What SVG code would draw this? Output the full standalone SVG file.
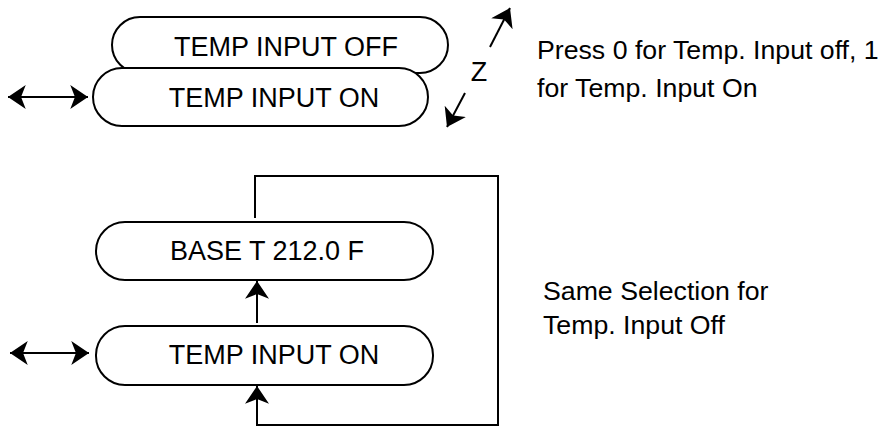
<svg xmlns="http://www.w3.org/2000/svg" width="882" height="428" viewBox="0 0 882 428">
<style>
.box{fill:#fff;stroke:#000;stroke-width:2}
.lbl{font-family:"Liberation Sans",Arial,sans-serif;font-size:27px;fill:#000}
.note{font-family:"Liberation Sans",Arial,sans-serif;font-size:26.7px;fill:#000}
.ln{fill:none;stroke:#000;stroke-width:2}
</style>
<defs>
<marker id="ah" markerUnits="userSpaceOnUse" markerWidth="18" markerHeight="24" viewBox="0 0 17 23" refX="17" refY="11.5" orient="auto-start-reverse">
<path d="M17,11.5 L0,0 L4.5,11.5 L0,23 Z" fill="#000"/>
</marker>
</defs>
<rect width="882" height="428" fill="#fff"/>
<g id="temp-input-off">
<rect class="box" x="112" y="17" width="336" height="56" rx="28"/>
<text class="lbl" x="286" y="56" text-anchor="middle">TEMP INPUT OFF</text>
</g>
<g id="temp-input-on-top">
<rect class="box" x="93" y="68" width="335" height="58" rx="29"/>
<text class="lbl" x="274" y="107" text-anchor="middle">TEMP INPUT ON</text>
</g>
<g id="z-label">
<text class="lbl" x="479" y="81" text-anchor="middle">Z</text>
</g>
<g id="note-top">
<text class="note" x="537" y="59">Press 0 for Temp. Input off, 1</text>
<text class="note" x="537" y="97">for Temp. Input On</text>
</g>
<g id="base-t">
<rect class="box" x="96" y="222" width="337" height="58" rx="29"/>
<text class="lbl" x="267" y="260" text-anchor="middle">BASE T 212.0 F</text>
</g>
<g id="temp-input-on-bottom">
<rect class="box" x="96" y="326" width="337" height="59" rx="29"/>
<text class="lbl" x="274" y="364" text-anchor="middle">TEMP INPUT ON</text>
</g>
<g id="note-bottom">
<text class="note" x="543" y="300">Same Selection for</text>
<text class="note" x="543" y="334">Temp. Input Off</text>
</g>
<g id="connectors">
<line class="ln" x1="8" y1="97" x2="88" y2="97" marker-start="url(#ah)" marker-end="url(#ah)"/>
<line class="ln" x1="490" y1="47" x2="510" y2="8" marker-end="url(#ah)"/>
<line class="ln" x1="465" y1="93" x2="447" y2="127" marker-end="url(#ah)"/>
<line class="ln" x1="10" y1="353" x2="89" y2="353" marker-start="url(#ah)" marker-end="url(#ah)"/>
<line class="ln" x1="257" y1="323" x2="257" y2="281" marker-end="url(#ah)"/>
<polyline class="ln" points="255,218 255,176 498,176 498,425 257,425 257,386" marker-end="url(#ah)"/>
</g>
</svg>
